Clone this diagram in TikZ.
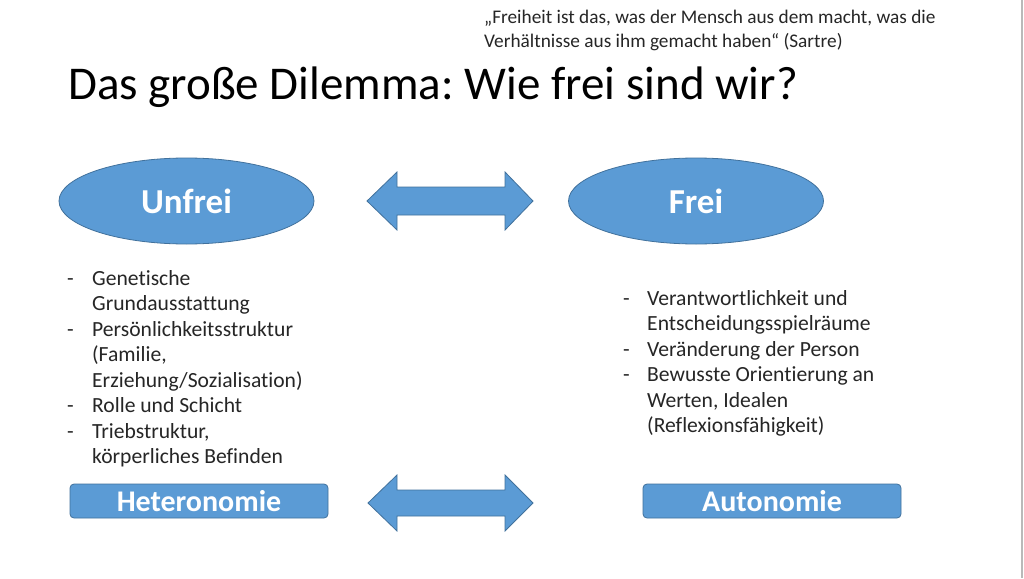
\documentclass[tikz,border=0pt]{standalone}
\usepackage{fontspec}
\setmainfont{Carlito}[Ligatures={NoCommon}]
\usetikzlibrary{shapes.geometric}
\definecolor{bfill}{HTML}{5B9BD5}
\definecolor{bline}{HTML}{41719C}
\definecolor{txt}{HTML}{262626}
\frenchspacing
\begin{document}
\begin{tikzpicture}[x=1pt,y=-1pt,
  blob/.style={fill=bfill,draw=bline,line width=0.8pt},
  oval/.style={blob,ellipse,minimum width=255pt,minimum height=86pt,inner sep=0pt,
    text=white,font=\fontsize{35}{38}\selectfont\bfseries},
  tag/.style={blob,rounded corners=4pt,minimum width=258pt,minimum height=34pt,inner sep=0pt,
    text=white,font=\fontsize{30}{32}\selectfont\bfseries},
  item/.style={anchor=base west,inner sep=0pt,text=txt,font=\fontsize{21.6}{24}\selectfont},
  quote/.style={anchor=base west,inner sep=0pt,text=txt,font=\fontsize{19.3}{22}\selectfont},
  title/.style={anchor=base west,inner sep=0pt,text=black,font=\fontsize{47}{50}\selectfont}]
\useasboundingbox (0,0) rectangle (1024,578);
\fill[white] (0,0) rectangle (1024,578);
\draw[gray!55,line width=1.5pt] (1022,0) -- (1022,578);

% quote and title
\node[quote] (q1) at (484,24) {„Freiheit ist das, was der Mensch aus dem macht, was die};
\node[quote] (q2) at (484,48) {Verhältnisse aus ihm gemacht haben“ (Sartre)};
\node[title] (title) at (68,99) {Das große Dilemma: Wie frei sind wir?};

% ellipses
\node[oval] (unfrei) at (186.5,201) {Unfrei};
\node[oval] (frei) at (696,201) {Frei};

% double arrows
\coordinate (a1) at (450,201);
\coordinate (a2) at (450,503);
\fill[blob] (367,201) -- (397,172) -- (397,187) -- (505,187) -- (505,172) -- (533,201)
  -- (505,230) -- (505,215) -- (397,215) -- (397,230) -- cycle;
\fill[blob] (368,503) -- (397,475) -- (397,490) -- (505,490) -- (505,475) -- (533,503)
  -- (505,531) -- (505,516) -- (397,516) -- (397,531) -- cycle;

% boxes
\node[tag] (het) at (199,501) {Heteronomie};
\node[tag] (aut) at (772,501) {Autonomie};

% left list
\node[item] (ld1) at (67,285) {-};
\node[item] (l1) at (92,285) {Genetische};
\node[item] (l2) at (92,310.5) {Grundausstattung};
\node[item] (ld2) at (67,336) {-};
\node[item] (l3) at (92,336) {Persönlichkeitsstruktur};
\node[item] (l4) at (92,361.5) {(Familie,};
\node[item] (l5) at (92,387) {Erziehung/Sozialisation)};
\node[item] (ld3) at (67,412.5) {-};
\node[item] (l6) at (92,412.5) {Rolle und Schicht};
\node[item] (ld4) at (67,438) {-};
\node[item] (l7) at (92,438) {Triebstruktur,};
\node[item] (l8) at (92,463.5) {körperliches Befinden};

% right list
\node[item] (rd1) at (623,305) {-};
\node[item] (r1) at (647,305) {Verantwortlichkeit und};
\node[item] (r2) at (647,330.5) {Entscheidungsspielräume};
\node[item] (rd2) at (623,356) {-};
\node[item] (r3) at (647,356) {Veränderung der Person};
\node[item] (rd3) at (623,381.5) {-};
\node[item] (r4) at (647,381.5) {Bewusste Orientierung an};
\node[item] (r5) at (647,407) {Werten, Idealen};
\node[item] (r6) at (647,432.5) {(Reflexionsfähigkeit)};
\end{tikzpicture}
\end{document}
